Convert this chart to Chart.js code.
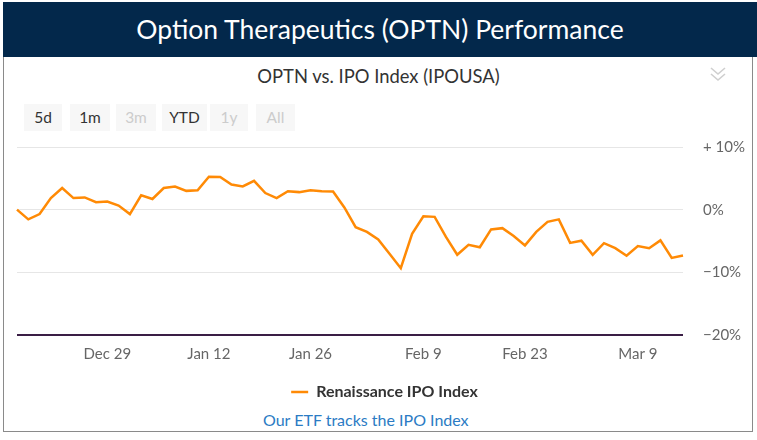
<!DOCTYPE html>
<html>
<head>
<meta charset="utf-8">
<script src="https://cdn.jsdelivr.net/npm/chart.js@4.4.1/dist/chart.umd.min.js"></script>
<style>
  body { margin: 0; width: 757px; height: 440px; background: #fff; font-family: Lato, "Open Sans", sans-serif; overflow: hidden; position: relative; }
  #frame { position: absolute; left: 3px; top: 2px; width: 748px; height: 429px; border-left: 1px solid #8a8a8a; border-right: 1px solid #8a8a8a; border-bottom: 1px solid #8a8a8a; }
  #header { position: absolute; left: 3px; top: 2px; width: 754px; height: 55px; background: #03284b; color: #fff; font-size: 26.5px; line-height: 55px; text-align: center; }
  #subtitle { position: absolute; left: 0; width: 757px; top: 65px; text-align: center; font-size: 18.4px; color: #333; }
  #chev { position: absolute; left: 709px; top: 66px; }
  .btn { position: absolute; top: 104px; height: 27px; line-height: 27px; text-align: center; background: #f7f7f7; font-size: 15.5px; color: #333; }
  .btn.off { color: #cccccc; }
  #chartBox { position: absolute; left: 3px; top: 118px; width: 749px; height: 292px; }
  #link { position: absolute; left: 263px; top: 410px; font-size: 16px; color: #2b7bc4; }
</style>
</head>
<body>
<div id="frame"></div>
<div id="header">Option Therapeutics (OPTN) Performance</div>
<div id="subtitle">OPTN vs. IPO Index (IPOUSA)</div>
<svg id="chev" width="18" height="18" viewBox="0 0 18 18">
  <polyline points="2,2 9,8 16,2" fill="none" stroke="#cfcfcf" stroke-width="1.6"/>
  <polyline points="2,8 9,14 16,8" fill="none" stroke="#cfcfcf" stroke-width="1.6"/>
</svg>
<div class="btn" style="left:24px;width:38px">5d</div>
<div class="btn" style="left:70px;width:40px">1m</div>
<div class="btn off" style="left:116px;width:40px">3m</div>
<div class="btn" style="left:162px;width:45px">YTD</div>
<div class="btn off" style="left:210px;width:38px">1y</div>
<div class="btn off" style="left:256px;width:39px">All</div>
<div id="chartBox"><canvas id="perfChart"></canvas></div>
<div id="link">Our ETF tracks the IPO Index</div>

<script>
// trading days, Dec 16 2014 - Mar 13 2015
const dates = [
    'Dec 16', 'Dec 17', 'Dec 18', 'Dec 19', 'Dec 22', 'Dec 23', 'Dec 24', 'Dec 26', 'Dec 29', 'Dec 30',
    'Dec 31', 'Jan 2', 'Jan 5', 'Jan 6', 'Jan 7', 'Jan 8', 'Jan 9', 'Jan 12', 'Jan 13', 'Jan 14',
    'Jan 15', 'Jan 16', 'Jan 20', 'Jan 21', 'Jan 22', 'Jan 23', 'Jan 26', 'Jan 27', 'Jan 28', 'Jan 29',
    'Jan 30', 'Feb 2', 'Feb 3', 'Feb 4', 'Feb 5', 'Feb 6', 'Feb 9', 'Feb 10', 'Feb 11', 'Feb 12',
    'Feb 13', 'Feb 17', 'Feb 18', 'Feb 19', 'Feb 20', 'Feb 23', 'Feb 24', 'Feb 25', 'Feb 26', 'Feb 27',
    'Mar 2', 'Mar 3', 'Mar 4', 'Mar 5', 'Mar 6', 'Mar 9', 'Mar 10', 'Mar 11', 'Mar 12', 'Mar 13'
];

// Renaissance IPO Index, % change
const ipoIndex = [
    0.0, -1.55, -0.7, 1.85, 3.45, 1.85, 1.95, 1.2, 1.3, 0.65,
    -0.7, 2.3, 1.7, 3.45, 3.7, 3.0, 3.1, 5.25, 5.2, 4.0,
    3.7, 4.6, 2.65, 1.85, 2.95, 2.8, 3.1, 2.95, 2.9, 0.35,
    -2.8, -3.55, -4.75, -7.05, -9.35, -3.85, -1.05, -1.15, -4.35, -7.2,
    -5.6, -6.0, -3.15, -2.95, -4.2, -5.7, -3.55, -1.95, -1.55, -5.3,
    -4.95, -7.2, -5.35, -6.15, -7.35, -5.8, -6.15, -4.9, -7.7, -7.3
];

const xTickDates = ['Dec 29', 'Jan 12', 'Jan 26', 'Feb 9', 'Feb 23', 'Mar 9'];
const yTickValues = [10, 0, -10, -20];
const yTickLabels = ['+ 10%', '0%', '\u221210%', '\u221220%'];

document.addEventListener('DOMContentLoaded', function() {
    initializePerformanceChart();
});

function initializePerformanceChart() {
    const ctx = document.getElementById('perfChart').getContext('2d');
    Chart.defaults.font.family = 'Lato, "Open Sans", sans-serif';

    new Chart(ctx, {
        type: 'line',
        data: {
            labels: dates,
            datasets: [
                {
                    label: 'Renaissance IPO Index',
                    data: ipoIndex,
                    borderColor: '#ff8a05',
                    backgroundColor: '#ff8a05',
                    borderWidth: 2.5,
                    pointRadius: 0,
                    tension: 0
                }
            ]
        },
        options: {
            responsive: true,
            maintainAspectRatio: false,
            animation: false,
            layout: { padding: { left: 14, top: 8, right: 0, bottom: 0 } },
            plugins: {
                tooltip: { enabled: false },
                legend: {
                    position: 'bottom',
                    labels: {
                        usePointStyle: true,
                        pointStyle: 'line',
                        pointStyleWidth: 17,
                        color: '#333',
                        padding: 21,
                        font: { size: 16, weight: 'bold' }
                    }
                }
            },
            scales: {
                x: {
                    border: { display: false },
                    grid: {
                        drawOnChartArea: false,
                        tickLength: 10,
                        color: function(c) {
                            return xTickDates.includes(dates[c.index]) ? '#ccd6eb' : 'rgba(0,0,0,0)';
                        }
                    },
                    ticks: {
                        autoSkip: false,
                        maxRotation: 0,
                        padding: 0,
                        color: '#666',
                        font: { size: 15 },
                        callback: function(value, index) {
                            return xTickDates.includes(dates[index]) ? dates[index] : null;
                        }
                    }
                },
                y: {
                    position: 'right',
                    min: -20,
                    max: 10,
                    border: { display: false },
                    afterFit: function(scale) { scale.width = 69; },
                    grid: {
                        drawTicks: false,
                        color: function(c) { return c.tick.value === -20 ? '#3a1e45' : '#e6e6e6'; },
                        lineWidth: function(c) { return c.tick.value === -20 ? 2 : 1; }
                    },
                    afterBuildTicks: function(scale) {
                        scale.ticks = yTickValues.map(function(v) { return { value: v }; });
                    },
                    ticks: {
                        padding: 20,
                        color: '#666',
                        font: { size: 15 },
                        callback: function(value) {
                            return yTickLabels[yTickValues.indexOf(value)];
                        }
                    }
                }
            }
        }
    });
}
</script>
</body>
</html>
